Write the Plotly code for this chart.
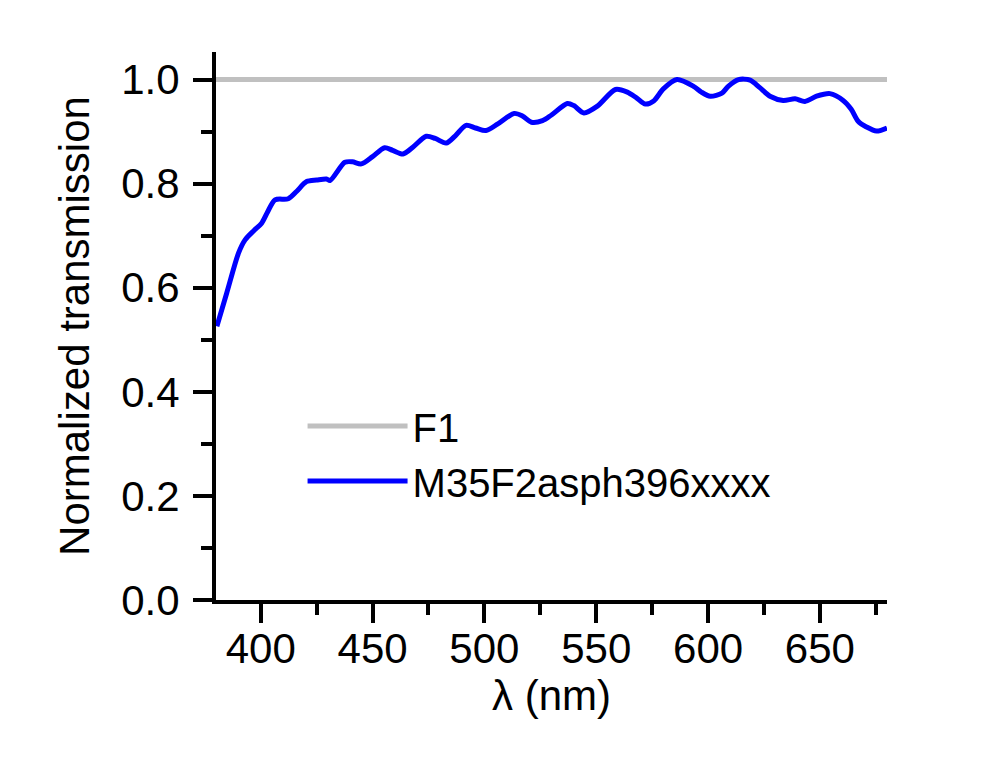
import plotly.graph_objects as go

# Data
wavelength_nm = [380.4, 384.8, 390.1, 393.0, 397.0, 400.4, 403.0, 406.4, 412.3, 416.0,
                 420.5, 425.0, 429.4, 431.0, 437.6, 441.0, 445.0, 450.0, 455.4, 459.0,
                 463.6, 468.0, 474.0, 478.0, 482.9, 487.0, 491.8, 496.0, 500.7, 506.0,
                 513.3, 517.0, 521.0, 526.0, 530.0, 537.1, 540.0, 544.5, 550.5, 558.6,
                 563.9, 568.0, 572.0, 575.7, 580.0, 586.1, 593.5, 597.0, 601.0, 606.2,
                 609.0, 613.6, 618.8, 623.0, 627.7, 633.6, 638.9, 643.3, 648.5, 654.5,
                 660.4, 664.0, 667.1, 670.8, 675.3, 680.0]
m35_transmission = [0.526, 0.590, 0.667, 0.692, 0.710, 0.724, 0.745, 0.769, 0.771, 0.785,
                    0.804, 0.807, 0.809, 0.806, 0.841, 0.842, 0.838, 0.852, 0.869, 0.864,
                    0.857, 0.870, 0.891, 0.887, 0.878, 0.892, 0.912, 0.907, 0.902, 0.915,
                    0.935, 0.930, 0.918, 0.921, 0.932, 0.954, 0.950, 0.936, 0.949, 0.981,
                    0.976, 0.965, 0.953, 0.959, 0.982, 1.000, 0.987, 0.976, 0.968, 0.974,
                    0.987, 1.000, 0.999, 0.985, 0.968, 0.960, 0.963, 0.958, 0.968, 0.973,
                    0.960, 0.943, 0.920, 0.909, 0.901, 0.907]
f1_wavelength_nm = [380, 680]
f1_transmission = [1.0, 1.0]

x_ticks = [400, 450, 500, 550, 600, 650]
y_ticks = [0.0, 0.2, 0.4, 0.6, 0.8, 1.0]

FONT = "Liberation Sans, Arial, sans-serif"
FS = 42

fig = go.Figure()
fig.add_trace(go.Scatter(x=f1_wavelength_nm, y=f1_transmission, mode="lines",
                         name="F1", line=dict(color="#c0c0c0", width=5)))
fig.add_trace(go.Scatter(x=wavelength_nm, y=m35_transmission, mode="lines",
                         name="M35F2asph396xxxx",
                         line=dict(color="#0000ff", width=5, shape="spline", smoothing=0.8)))

axis_common = dict(showgrid=False, zeroline=False, showline=True, linecolor="black",
                   linewidth=4, ticks="outside", ticklen=19, tickwidth=4, tickcolor="black",
                   tickfont=dict(family=FONT, size=FS, color="black"))

fig.update_xaxes(range=[380, 680], tickvals=x_ticks, ticklabelstandoff=-10,
                 minor=dict(ticks="outside", dtick=25, tick0=0, ticklen=11, tickwidth=4, tickcolor="black"),
                 title=dict(text="λ (nm)", font=dict(family=FONT, size=FS, color="black"), standoff=4),
                 **axis_common)
fig.update_yaxes(range=[0, 1.053], tickvals=y_ticks, ticktext=[f"{v:.1f}" for v in y_ticks],
                 ticklabelstandoff=5,
                 minor=dict(ticks="outside", dtick=0.1, tick0=0, ticklen=11, tickwidth=4, tickcolor="black"),
                 title=dict(text="Normalized transmission", font=dict(family=FONT, size=FS, color="black"), standoff=20),
                 **axis_common)

fig.update_layout(
    width=994, height=768,
    margin=dict(l=208, r=115, t=44, b=176, autoexpand=False),
    plot_bgcolor="white", paper_bgcolor="white",
    font=dict(family=FONT, size=FS, color="black"),
    legend=dict(x=0.129, y=0.377, xanchor="left", yanchor="top", bgcolor="rgba(0,0,0,0)",
                font=dict(family=FONT, size=40, color="black"), itemwidth=100,
                tracegroupgap=0),
    showlegend=True,
)

fig.write_html("out.html")
